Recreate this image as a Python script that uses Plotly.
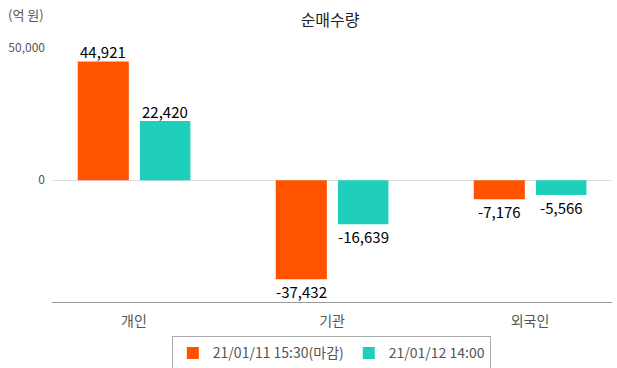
import plotly.graph_objects as go

categories = ["개인", "기관", "외국인"]
series1_name = "21/01/11 15:30(마감)"
series1_values = [44921, -37432, -7176]
series2_name = "21/01/12 14:00"
series2_values = [22420, -16639, -5566]
tick_values = [0, 50000]
tick_labels = ["0", "50,000"]

FONT = "Noto Sans CJK KR"
BAR_W = [0.258, 0.255]
BAR_OFF = [-0.284, 0.03]

def fmt(v):
    return f"{v:,}"

fig = go.Figure()
series = [(series1_name, series1_values, "#FF5300"),
          (series2_name, series2_values, "#1FCFBB")]
for k, (name, vals, color) in enumerate(series):
    fig.add_trace(go.Bar(
        x=categories, y=vals, name=name,
        marker=dict(color=color, line=dict(width=0)),
        width=BAR_W[k], offset=BAR_OFF[k],
    ))
    for i, v in enumerate(vals):
        fig.add_annotation(
            x=i + BAR_OFF[k] + BAR_W[k] / 2, y=v, xref="x", yref="y",
            text=fmt(v), showarrow=False,
            yanchor="bottom" if v >= 0 else "top",
            yshift=-3 if v >= 0 else 0,
            font=dict(color="#000", size=15, family=FONT),
        )

fig.update_layout(
    width=617, height=368,
    margin=dict(l=52, r=5, t=48, b=66, autoexpand=False),
    paper_bgcolor="white", plot_bgcolor="white",
    font=dict(family=FONT, color="#555", size=12),
    barmode="group",
    title=dict(text="순매수량", x=0.535, xanchor="center", y=0.945, yanchor="middle",
               font=dict(size=16, color="#222", family=FONT)),
    showlegend=True,
    legend=dict(orientation="h", xref="container", yref="container",
                x=0.537, xanchor="center", y=0.086, yanchor="top",
                bordercolor="#aaa", borderwidth=1, bgcolor="white",
                font=dict(size=14, color="#555", family=FONT),
                traceorder="normal"),
)
fig.update_xaxes(
    range=[-0.414, 2.414], showline=True, linecolor="#999", linewidth=1,
    ticks="", tickfont=dict(size=14, color="#555"), showgrid=False,
    ticklabelstandoff=6,
)
fig.update_yaxes(
    range=[-46000, 50000], tickvals=tick_values, ticktext=tick_labels,
    showgrid=True, gridcolor="#ddd", zeroline=True, zerolinecolor="#ddd",
    zerolinewidth=1, tickfont=dict(size=12, color="#555"), ticks="",
    ticklabelstandoff=6,
)
fig.add_annotation(text="(억 원)", xref="paper", yref="paper",
                   x=-0.083, y=1.13, xanchor="left", yanchor="middle",
                   showarrow=False, font=dict(size=13, color="#555"))

fig.write_html("out.html", config={"displayModeBar": False},
               post_script="document.body.style.margin='0';")
